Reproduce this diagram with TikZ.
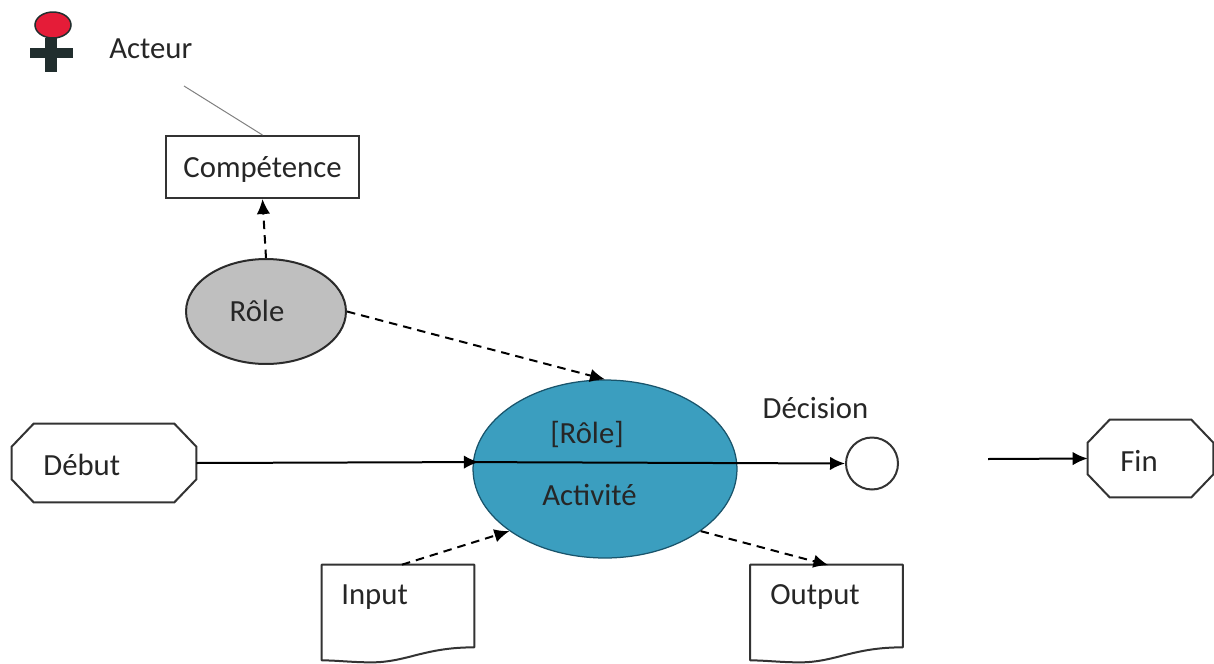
\documentclass[tikz,border=0pt]{standalone}
\usepackage{fontspec}
\setmainfont{Carlito}
\usepackage{xcolor}
\usetikzlibrary{shapes.geometric,arrows.meta}
\definecolor{darkcross}{rgb}{0.13,0.18,0.18}
\definecolor{headred}{rgb}{0.90,0.11,0.22}
\definecolor{activityblue}{rgb}{0.23,0.62,0.75}
\definecolor{activityedge}{rgb}{0.10,0.33,0.42}
\definecolor{rolegray}{rgb}{0.75,0.75,0.75}
\newcommand{\docoutline}[1]{
  \draw[shape line,line join=round] (#1.north west)--(#1.north east)--(#1.south east)--+(-0.4,0)
    .. controls +(-50,0) and +(35,0) .. ([xshift=1.0cm,yshift=-0.3cm]#1.south west)
    .. controls +(-20,0) and +(15,0) .. ([yshift=-0.26cm]#1.south west)--cycle;
}
\newcommand{\octoutline}[1]{
  \draw[shape line] ([xshift=0.44cm]#1.north west)--([xshift=-0.44cm]#1.north east)
    --([yshift=-0.46cm]#1.north east)--([yshift=0.46cm]#1.south east)
    --([xshift=-0.44cm]#1.south east)--([xshift=0.44cm]#1.south west)
    --([yshift=0.46cm]#1.south west)--([yshift=-0.46cm]#1.north west)--cycle;
}
\begin{document}
\begin{tikzpicture}[x=0.02cm,y=-0.02cm]
  \tikzset{shape line/.style={draw,line width=0.04cm,draw opacity=0.8}}
  \tikzset{caption/.style={font=\fontsize{17.5}{20}\selectfont,text=black!85,inner sep=0pt}}
  \tikzset{octagon/.style={rectangle,inner sep=0pt}}
  \tikzset{docbox/.style={rectangle,inner sep=0pt,minimum width=3.04cm,minimum height=1.64cm}}
  \tikzset{transition/.style={-{Latex[length=0.3cm,width=0.27cm]},line width=0.04cm}}
  \tikzset{dependency/.style={transition,dash pattern=on 0.17cm off 0.12cm}}
  \useasboundingbox (0,0) rectangle (1214,663);
  % acteur
  \node[rectangle,fill=darkcross,inner sep=0pt,minimum width=0.24cm,minimum height=0.7cm] (body) at (51,55) {};
  \node[rectangle,fill=darkcross,inner sep=0pt,minimum width=0.86cm,minimum height=0.2cm] (arms) at (51.5,52.5) {};
  \node[ellipse,draw=darkcross,fill=headred,line width=0.03cm,inner sep=0pt,minimum width=0.72cm,minimum height=0.52cm] (head) at (53,25) {};
  \node[caption,anchor=west] (acteur) at (109,49) {Acteur};
  \coordinate (acteurlink) at (184,86);
  % main nodes
  \node[shape line,rectangle,inner sep=0pt,minimum width=3.86cm,minimum height=1.24cm] (competence) at (262.5,167) {};
  \node[caption] (competencetext) at (262.5,169.5) {Compétence};
  \node[shape line,ellipse,fill=rolegray,inner sep=0pt,minimum width=3.2cm,minimum height=2.1cm] (role) at (266,311.5) {};
  \node[caption] (roletext) at (257,311) {Rôle};
  \node[ellipse,draw=activityedge,line width=0.025cm,fill=activityblue,inner sep=0pt,minimum width=5.28cm,minimum height=3.56cm] (activite) at (605,469) {};
  \node[caption] (roleactivite) at (587,434) {[Rôle]};
  \node[caption] (activitetext) at (589.5,495) {Activité};
  \node[octagon,minimum width=3.68cm,minimum height=1.56cm] (debut) at (104,463) {};
  \octoutline{debut}
  \node[caption,anchor=west] (debuttext) at (43,465) {Début};
  \node[octagon,minimum width=2.5cm,minimum height=1.54cm] (fin) at (1150.5,458.5) {};
  \octoutline{fin}
  \node[caption,anchor=west] (fintext) at (1120,461) {Fin};
  \node[shape line,circle,inner sep=0pt,minimum size=1.04cm] (decision) at (872,463.5) {};
  \node[caption] (decisiontext) at (815.5,408) {Décision};
  \coordinate (finstart) at (988,459);
  % documents
  \node[docbox] (input) at (398,606) {};
  \node[docbox] (output) at (826.5,606) {};
  \docoutline{input}
  \docoutline{output}
  \node[caption,anchor=west] (inputtext) at (341,597) {Input};
  \node[caption,anchor=west] (outputtext) at (770,597) {Output};
  % liens
  \draw[gray,line width=0.02cm] (acteurlink)--(competence.north);
  \draw[dependency] (role.north)--(competence.south);
  \draw[dependency] (role.east)--(activite.north);
  \draw[transition,shorten >=-0.12cm] (debut.east)--(activite.177.4);
  \draw[transition] (activite.177.4)--(decision.west);
  \draw[transition] (finstart)--(fin.west);
  \draw[dependency] ([xshift=0.08cm]input.north)--(activite.213);
  \draw[dependency,shorten >=-0.04cm] (activite.-33)--(output.north);
\end{tikzpicture}
\end{document}
